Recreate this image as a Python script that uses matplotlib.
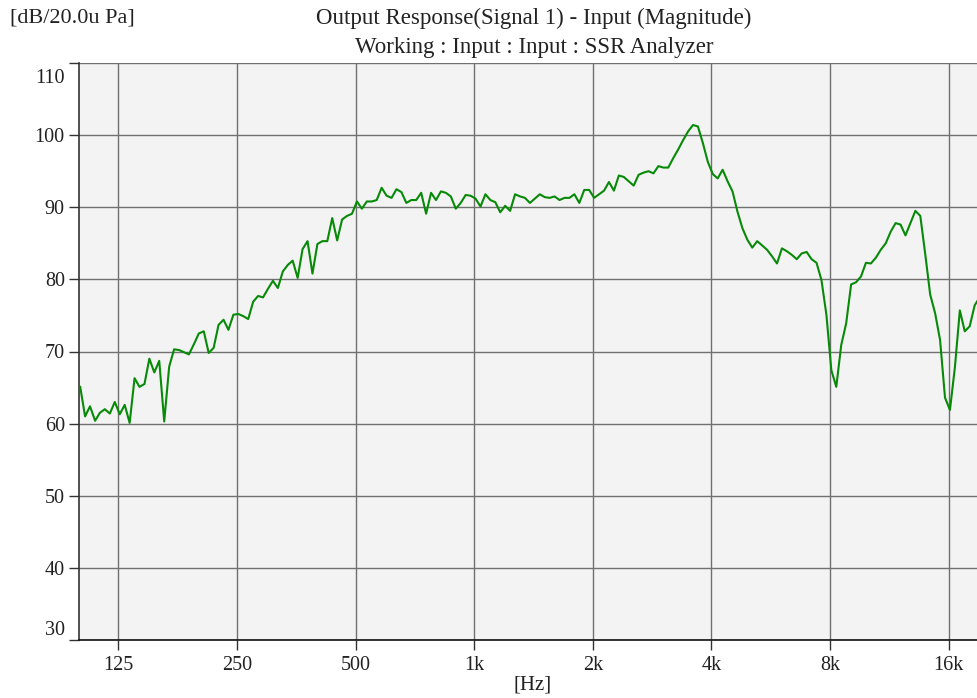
import matplotlib.pyplot as plt
from matplotlib.transforms import ScaledTranslation
from matplotlib.ticker import NullLocator

# 1/24 octave analysis frequencies [Hz]
freq_hz = [
    100.0, 102.9, 105.9, 109.1, 112.2, 115.5, 118.9, 122.4, 126.0, 129.7, 133.5, 137.4,
    141.4, 145.6, 149.8, 154.2, 158.7, 163.4, 168.2, 173.1, 178.2, 183.4, 188.8, 194.3,
    200.0, 205.9, 211.9, 218.1, 224.5, 231.1, 237.8, 244.8, 252.0, 259.4, 267.0, 274.8,
    282.8, 291.1, 299.7, 308.4, 317.5, 326.8, 336.4, 346.2, 356.4, 366.8, 377.6, 388.6,
    400.0, 411.7, 423.8, 436.2, 449.0, 462.1, 475.7, 489.6, 504.0, 518.7, 533.9, 549.6,
    565.7, 582.3, 599.3, 616.9, 635.0, 653.6, 672.7, 692.4, 712.7, 733.6, 755.1, 777.2,
    800.0, 823.4, 847.6, 872.4, 898.0, 924.3, 951.4, 979.2, 1007.9, 1037.5, 1067.9, 1099.2,
    1131.4, 1164.5, 1198.6, 1233.8, 1269.9, 1307.1, 1345.4, 1384.9, 1425.4, 1467.2, 1510.2, 1554.4,
    1600.0, 1646.9, 1695.1, 1744.8, 1795.9, 1848.6, 1902.7, 1958.5, 2015.9, 2074.9, 2135.7, 2198.3,
    2262.7, 2329.0, 2397.3, 2467.5, 2539.8, 2614.3, 2690.9, 2769.7, 2850.9, 2934.4, 3020.4, 3108.9,
    3200.0, 3293.8, 3390.3, 3489.6, 3591.9, 3697.1, 3805.5, 3917.0, 4031.7, 4149.9, 4271.5, 4396.6,
    4525.5, 4658.1, 4794.6, 4935.1, 5079.7, 5228.5, 5381.7, 5539.4, 5701.8, 5868.8, 6040.8, 6217.8,
    6400.0, 6587.5, 6780.6, 6979.3, 7183.8, 7394.2, 7610.9, 7833.9, 8063.5, 8299.7, 8543.0, 8793.3,
    9051.0, 9316.2, 9589.2, 9870.2, 10159.4, 10457.1, 10763.5, 11079.0, 11403.6, 11737.7, 12081.7, 12435.7,
    12800.0, 13175.1, 13561.1, 13958.5, 14367.5, 14788.5, 15221.9, 15667.9, 16127.0, 16599.6, 17086.0, 17586.6,
    18101.9, 18632.4, 19178.4,
]

# measured level [dB re 20 uPa]
level_db = [
    65.1, 61.0, 62.4, 60.4, 61.5, 62.0, 61.4, 63.0, 61.3, 62.6,
    60.1, 66.3, 65.1, 65.5, 69.0, 67.1, 68.7, 60.3, 67.9, 70.3,
    70.2, 69.9, 69.6, 71.0, 72.5, 72.8, 69.8, 70.5, 73.7, 74.4,
    73.0, 75.1, 75.2, 74.9, 74.5, 76.9, 77.7, 77.5, 78.7, 79.8,
    78.8, 81.1, 82.0, 82.6, 80.2, 84.2, 85.3, 80.8, 84.9, 85.3,
    85.3, 88.5, 85.4, 88.3, 88.8, 89.1, 90.8, 89.8, 90.8, 90.8,
    91.0, 92.7, 91.6, 91.3, 92.5, 92.1, 90.6, 91.0, 91.0, 92.0,
    89.1, 92.0, 91.0, 92.2, 92.0, 91.5, 89.8, 90.6, 91.7, 91.6,
    91.2, 90.1, 91.8, 91.0, 90.7, 89.3, 90.2, 89.5, 91.8, 91.5,
    91.3, 90.6, 91.2, 91.8, 91.4, 91.3, 91.5, 91.0, 91.3, 91.3,
    91.8, 90.6, 92.4, 92.4, 91.3, 91.8, 92.3, 93.5, 92.3, 94.4,
    94.2, 93.6, 93.0, 94.5, 94.8, 95.0, 94.7, 95.7, 95.5, 95.5,
    96.8, 98.0, 99.3, 100.5, 101.4, 101.2, 98.9, 96.3, 94.6, 94.0,
    95.2, 93.6, 92.2, 89.4, 87.1, 85.5, 84.4, 85.3, 84.7, 84.1,
    83.2, 82.2, 84.3, 83.9, 83.4, 82.8, 83.6, 83.8, 82.8, 82.3,
    79.9, 75.1, 67.4, 65.1, 70.9, 73.9, 79.3, 79.6, 80.4, 82.3,
    82.2, 83.0, 84.1, 85.0, 86.6, 87.8, 87.6, 86.1, 87.8, 89.5,
    88.8, 83.5, 77.9, 75.3, 71.6, 63.6, 61.9, 67.8, 75.7, 72.8,
    73.5, 76.4, 77.5,
]

xtick_hz = [125, 250, 500, 1000, 2000, 4000, 8000, 16000]
xtick_labels = ['125', '250', '500', '1k', '2k', '4k', '8k', '16k']
ytick_db = [30, 40, 50, 60, 70, 80, 90, 100, 110]

plt.rcParams['font.family'] = ['Liberation Serif', 'DejaVu Serif']
plt.rcParams['font.size'] = 14

W, H = 978, 698
fig = plt.figure(figsize=(W / 100, H / 100), dpi=100)
ax = fig.add_axes([79 / W, 58 / H, 899 / W, 577 / H])
ax.set_facecolor('#f3f3f3')

ax.plot(freq_hz, level_db, color='#078a07', lw=1.5, zorder=3)

ax.set_xscale('log')
ax.set_xlim(99.3, 19000)
ax.set_ylim(30, 110)
ax.set_xticks(xtick_hz, labels=xtick_labels)
ax.xaxis.set_minor_locator(NullLocator())
ax.set_yticks(ytick_db)
ax.grid(True, color='#707070', lw=1.0)
ax.set_axisbelow(True)

for s in ['top', 'right']:
    ax.spines[s].set_visible(False)
ax.spines['left'].set_color('#333333')
ax.spines['bottom'].set_color('#111111')
ax.spines['left'].set_linewidth(1.2)
ax.spines['bottom'].set_linewidth(1.2)
ax.tick_params(direction='out', length=7.2, width=1.0, color='#333333',
               labelsize=14.5, labelcolor='#222222')
ax.tick_params(axis='x', pad=4)
ax.tick_params(axis='y', pad=3)

# end labels of the y axis are pushed inside the plot height
ylabels = ax.get_yticklabels()
ylabels[0].set_transform(ylabels[0].get_transform() + ScaledTranslation(0, 0.12, fig.dpi_scale_trans))
ylabels[-1].set_transform(ylabels[-1].get_transform() + ScaledTranslation(0, -0.13, fig.dpi_scale_trans))

ax.set_xlabel('[Hz]', fontsize=15, color='#222222')
ax.xaxis.set_label_coords((533 - 79) / 899, -0.062)

fig.text(10 / W, 1 - 18 / H, '[dB/20.0u Pa]', ha='left', va='center', fontsize=16, color='#222222')
fig.text(534 / W, 1 - 18 / H, 'Output Response(Signal 1) - Input (Magnitude)',
         ha='center', va='center', fontsize=16.5, color='#222222')
fig.text(534 / W, 1 - 47 / H, 'Working : Input : Input : SSR Analyzer',
         ha='center', va='center', fontsize=16.5, color='#222222')

fig.savefig('out.png', dpi=100)
